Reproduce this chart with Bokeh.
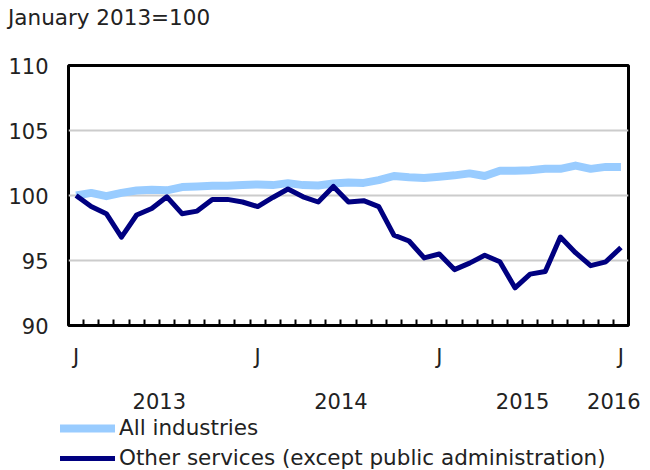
from bokeh.plotting import figure
from bokeh.models import FixedTicker, LinearAxis, Legend, LegendItem, ColumnDataSource, Div, Range1d
from bokeh.layouts import column, row
from bokeh.embed import file_html
from bokeh.resources import INLINE

months = list(range(37))
all_industries = [100.0, 100.2, 99.95, 100.2, 100.38, 100.45, 100.4, 100.65, 100.7, 100.75,
                  100.75, 100.8, 100.85, 100.8, 100.95, 100.8, 100.77, 100.92, 101.0, 100.97,
                  101.18, 101.5, 101.4, 101.35, 101.45, 101.55, 101.7, 101.5, 101.9, 101.9,
                  101.95, 102.05, 102.05, 102.3, 102.05, 102.2, 102.2]
other_services = [100.0, 99.15, 98.6, 96.8, 98.5, 99.0, 99.9, 98.6, 98.8, 99.7,
                  99.7, 99.5, 99.15, 99.85, 100.5, 99.9, 99.5, 100.7, 99.5, 99.6,
                  99.15, 96.95, 96.5, 95.2, 95.5, 94.3, 94.8, 95.4, 94.9, 92.9,
                  93.95, 94.15, 96.8, 95.6, 94.6, 94.9, 96.0]
month_ticks = [0, 12, 24, 36]
month_labels = ["J", "J", "J", "J"]
year_ticks = [5.5, 17.5, 29.5, 36]
year_labels = ["2013", "2014", "2015", "2016"]
y_ticks = [90, 95, 100, 105, 110]
series_names = ["All industries", "Other services (except public administration)"]
series_cols = ["a", "o"]
series_colors = ["#99CCFF", "#000080"]
series_widths = [8, 5]

FONT = "DejaVu Sans"
FS = "21px"
FS_BIG = "21.5px"
TXT = "#222222"

title = Div(text="January 2013=100", width=640, height=36, margin=(0, 0, 0, 0),
            styles={"font-family": FONT, "font-size": FS_BIG, "color": TXT, "padding-left": "8px",
                    "line-height": "36px", "white-space": "nowrap"})

src = ColumnDataSource(dict(x=months, a=all_industries, o=other_services))

p = figure(width=640, height=378, x_range=(-0.5, 36.5), y_range=(90, 110),
           output_backend="svg", toolbar_location=None,
           min_border_left=68, min_border_right=12, min_border_top=29, min_border_bottom=89,
           x_axis_type=None)
p.outline_line_color = "black"
p.outline_line_width = 3
p.outline_line_alpha = 1
p.background_fill_color = "white"
p.border_fill_color = "white"

p.xgrid.visible = False
p.ygrid.grid_line_color = "#CCCCCC"
p.ygrid.grid_line_width = 2
p.ygrid.ticker = FixedTicker(ticks=[95, 100, 105])

ya = p.yaxis[0]
ya.ticker = FixedTicker(ticks=y_ticks)
ya.axis_line_color = None
ya.major_tick_line_color = None
ya.minor_tick_line_color = None
ya.major_tick_in = 0
ya.major_tick_out = 0
ya.minor_tick_in = 0
ya.minor_tick_out = 0
ya.major_label_standoff = 20
ya.major_label_text_font = FONT
ya.major_label_text_font_size = FS
ya.major_label_text_color = TXT

xa = LinearAxis(ticker=FixedTicker(ticks=month_ticks, minor_ticks=[m + 0.5 for m in months[:-1]]))
xa.major_label_overrides = {t: l for t, l in zip(month_ticks, month_labels)}
xa.axis_line_color = None
xa.major_tick_line_color = None
xa.major_tick_in = 0
xa.major_tick_out = 0
xa.minor_tick_in = 6
xa.minor_tick_out = 0
xa.minor_tick_line_color = "black"
xa.minor_tick_line_width = 2
xa.major_label_standoff = 19
xa.major_label_text_font = FONT
xa.major_label_text_font_size = FS
xa.major_label_text_color = TXT
p.add_layout(xa, "below")

xa2 = LinearAxis(ticker=FixedTicker(ticks=year_ticks, minor_ticks=[]))
xa2.major_label_overrides = {t: l for t, l in zip(year_ticks, year_labels)}
xa2.axis_line_color = None
xa2.major_tick_line_color = None
xa2.minor_tick_line_color = None
xa2.major_tick_in = 0
xa2.major_tick_out = 0
xa2.minor_tick_in = 0
xa2.minor_tick_out = 0
xa2.major_label_standoff = 21
xa2.major_label_text_font = FONT
xa2.major_label_text_font_size = FS
xa2.major_label_text_color = TXT
p.add_layout(xa2, "below")

for c, col, w in zip(series_cols, series_colors, series_widths):
    p.line("x", c, source=src, line_color=col, line_width=w, line_join="round")

# legend panel (same series, out of view ranges; only the legend shows)
p2 = figure(width=640, height=56, x_range=Range1d(100, 101), y_range=Range1d(0, 1),
            output_backend="svg", toolbar_location=None,
            min_border_left=0, min_border_right=0, min_border_top=0, min_border_bottom=0,
            x_axis_type=None, y_axis_type=None)
p2.outline_line_color = None
p2.grid.visible = False
items = []
for name, c, col, w in zip(series_names, series_cols, series_colors, series_widths):
    r = p2.line("x", c, source=src, line_color=col, line_width=w, line_cap="round")
    items.append(LegendItem(label=name, renderers=[r]))
legend = Legend(items=items, location=(60, 0), orientation="vertical", margin=0, padding=0, spacing=5,
                glyph_width=55, glyph_height=22, label_height=22, label_standoff=4,
                label_text_font=FONT, label_text_font_size=FS_BIG, label_text_color=TXT,
                border_line_color=None, background_fill_alpha=0)
p2.add_layout(legend, "center")

layout = column(title, p, row(p2), spacing=0)
open("out.html", "w").write(file_html(layout, INLINE))
